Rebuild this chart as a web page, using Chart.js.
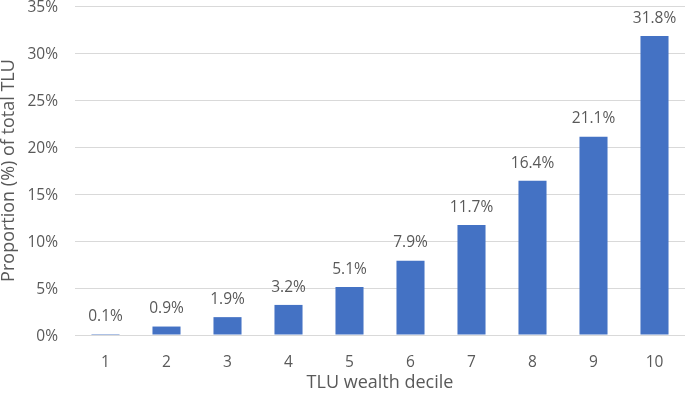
<!DOCTYPE html>
<html lang="en">
<head>
<meta charset="UTF-8">
<title>TLU wealth decile</title>
<script src="https://cdn.jsdelivr.net/npm/chart.js"></script>
<style>
  html, body { margin: 0; padding: 0; background: #fff; }
  #wrap { width: 685px; height: 396px; }
</style>
</head>
<body>
<div id="wrap"><canvas id="chart"></canvas></div>
<script>
// data
const deciles = ['1', '2', '3', '4', '5', '6', '7', '8', '9', '10'];
const shares = [0.1, 0.9, 1.9, 3.2, 5.1, 7.9, 11.7, 16.4, 21.1, 31.8];

const textColor = '#595959';
const fontFamily = '"Open Sans", "Liberation Sans", sans-serif';

// value labels above each bar
const barLabels = {
  id: 'barLabels',
  afterDatasetsDraw(chart) {
    const ctx = chart.ctx;
    const meta = chart.getDatasetMeta(0);
    ctx.save();
    ctx.fillStyle = textColor;
    ctx.font = '15.5px ' + fontFamily;
    ctx.textAlign = 'center';
    ctx.textBaseline = 'bottom';
    meta.data.forEach((bar, i) => {
      ctx.fillText(shares[i].toFixed(1) + '%', bar.x, bar.y - 10);
    });
    ctx.restore();
  }
};

new Chart(document.getElementById('chart'), {
  type: 'bar',
  data: {
    labels: deciles,
    datasets: [{
      data: shares,
      backgroundColor: '#4472C4',
      barPercentage: 0.46,
      categoryPercentage: 1
    }]
  },
  options: {
    responsive: true,
    maintainAspectRatio: false,
    animation: false,
    layout: { padding: { top: 6, right: 0, left: 0, bottom: 0 } },
    plugins: {
      legend: { display: false },
      tooltip: { enabled: false }
    },
    scales: {
      x: {
        grid: { display: false, drawTicks: false },
        border: { color: '#d9d9d9' },
        ticks: { color: textColor, font: { family: fontFamily, size: 15.5 }, padding: 18 },
        title: {
          display: true,
          text: 'TLU wealth decile',
          color: textColor,
          font: { family: fontFamily, size: 18 },
          padding: { top: 2, bottom: 2 }
        },
        afterFit(scale) { scale.height = 61; scale.paddingLeft = 0; scale.paddingRight = 0; }
      },
      y: {
        min: 0,
        max: 35,
        grid: { color: '#d9d9d9', drawTicks: false },
        border: { display: false },
        ticks: {
          stepSize: 5,
          color: textColor,
          font: { family: fontFamily, size: 15.5 },
          padding: 17,
          labelOffset: 2,
          callback: v => v + '%'
        },
        title: {
          display: true,
          text: 'Proportion (%) of total TLU',
          color: textColor,
          font: { family: fontFamily, size: 18, lineHeight: 1 },
          padding: { top: 0, bottom: 4 }
        },
        afterFit(scale) { scale.width = 75; scale.paddingTop = 0; scale.paddingBottom = 0; }
      }
    }
  },
  plugins: [barLabels]
});
</script>
</body>
</html>
